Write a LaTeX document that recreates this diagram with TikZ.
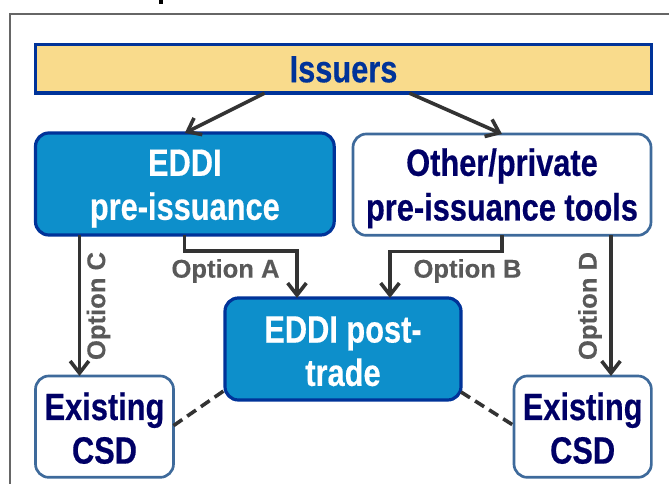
\documentclass[tikz,border=0pt]{standalone}
\usepackage{fontspec}
\setmainfont{Liberation Sans}[BoldFeatures={FakeBold=0.25}]
\newfontfamily\narrowfont[FakeStretch=0.81,BoldFeatures={FakeStretch=0.81,FakeBold=0.4}]{Liberation Sans}
\usetikzlibrary{arrows.meta,calc}
\newcommand{\lowertext}[2]{\raisebox{-#1}[\height][\depth]{#2}}
\definecolor{navy}{HTML}{000066}
\definecolor{royal}{HTML}{003399}
\definecolor{sand}{HTML}{F9DB8C}
\definecolor{teal}{HTML}{0D8FCB}
\definecolor{steel}{HTML}{3E6A9B}
\definecolor{ink}{HTML}{333333}
\definecolor{optgrey}{HTML}{595959}
\definecolor{framegrey}{HTML}{666666}
\tikzset{
  x=0.75pt,y=-0.75pt,
  box/.style={anchor=north west,inner sep=0pt,outer sep=0pt,align=center,rounded corners=10pt,
    font=\narrowfont\bfseries\fontsize{28.5}{34}\selectfont},
  darkbox/.style={box,draw=royal,line width=2.4pt,fill=teal,text=white},
  lightbox/.style={box,draw=steel,line width=2pt,fill=white,text=navy},
  flow/.style={draw=ink,line width=2.7pt,-{Straight Barb[length=9pt,width=14pt,line width=2.7pt]}},
  dashlink/.style={draw=ink,line width=2.7pt,dash pattern=on 8pt off 4.5pt},
  opt/.style={font=\bfseries\fontsize{19.2}{22}\selectfont,text=optgrey,inner sep=0pt},
}
\begin{document}
\begin{tikzpicture}
\useasboundingbox (0,0) rectangle (669,484);
\fill[white] (0,0) rectangle (669,484);
\draw[framegrey,line width=2.2pt] (10,484) -- (10,14) -- (669,14);
\fill[black] (159,0) rectangle (163,4);
\node[box,rounded corners=0pt,draw=royal,line width=2.6pt,fill=sand,text=royal,minimum width=462pt,minimum height=36.5pt] (issuers) at (35.5,44.5) {\lowertext{0.4pt}{Issuers}};
\node[darkbox,minimum width=224pt,minimum height=76.5pt] (eddi) at (35.5,133) {\lowertext{4pt}{EDDI}\\\lowertext{3pt}{pre-issuance}};
\node[lightbox,minimum width=223.5pt,minimum height=76pt] (other) at (353,134) {\lowertext{3pt}{Other/private}\\\lowertext{2.5pt}{pre-issuance tools}};
\node[darkbox,minimum width=177pt,minimum height=76.5pt] (post) at (225,298) {\lowertext{2.5pt}{EDDI post-}\\\lowertext{1pt}{trade}};
\node[lightbox,minimum width=103.5pt,minimum height=76pt] (csdl) at (35.5,376) {\lowertext{1.8pt}{Existing}\\\lowertext{0.5pt}{CSD}};
\node[lightbox,minimum width=103pt,minimum height=76pt] (csdr) at (514,376) {\lowertext{1.8pt}{Existing}\\\lowertext{0.5pt}{CSD}};
\coordinate (ia) at ($(issuers.south west)+(229,0)$);
\coordinate (ib) at ($(issuers.south west)+(374,0)$);
\draw[flow] (ia) -- (eddi.north);
\draw[flow] (ib) -- (other.north);
\coordinate (cc) at ($(eddi.south west)+(44,0)$);
\coordinate (ca) at ($(eddi.south west)+(149,0)$);
\coordinate (pa) at ($(post.north west)+(72,0)$);
\coordinate (pb) at ($(post.north west)+(165,0)$);
\coordinate (cd) at ($(other.south west)+(258,0)$);
\draw[flow] (cc) -- (cc |- csdl.north);
\draw[flow] (cd) -- (cd |- csdr.north);
\draw[flow] (ca) -- ++(0,16) -| (pa);
\draw[flow] (other.south) -- ++(0,16) -| (pb);
\coordinate (dl1) at ($(csdl.east)+(0,-1)$);
\coordinate (dl2) at ($(post.south west)+(0,-10)$);
\coordinate (dr1) at ($(post.south east)+(0,-8)$);
\coordinate (dr2) at ($(csdr.west)+(0,-1)$);
\draw[dashlink] (dl1) -- (dl2);
\draw[dashlink] (dr1) -- (dr2);
\node[opt] (oa) at (225.5,271) {Option A};
\node[opt] (ob) at (467.5,271) {Option B};
\node[opt,rotate=90] (oc) at (98.5,306) {Option C};
\node[opt,rotate=90] (od) at (590,306) {Option D};
\end{tikzpicture}
\end{document}
